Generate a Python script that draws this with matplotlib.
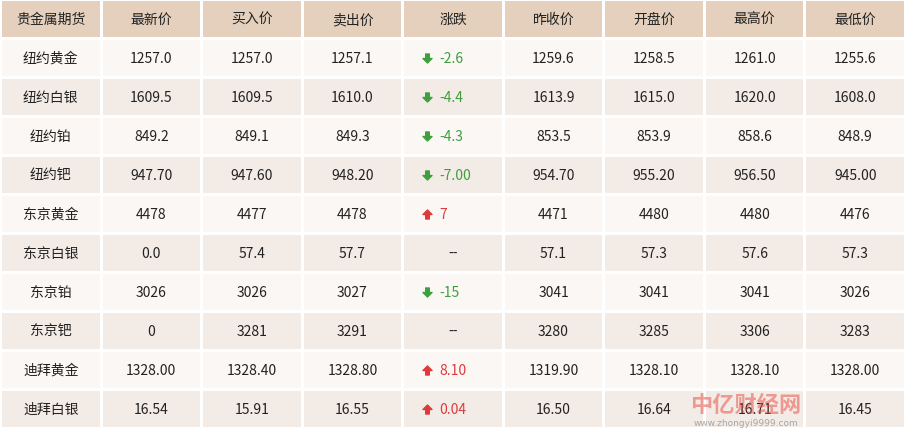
import matplotlib
matplotlib.use("Agg")
import matplotlib.pyplot as plt
from matplotlib.patches import Rectangle
from matplotlib.path import Path

headers = ["贵金属期货", "最新价", "买入价", "卖出价", "涨跌", "昨收价", "开盘价", "最高价", "最低价"]
names = ["纽约黄金", "纽约白银", "纽约铂", "纽约钯", "东京黄金", "东京白银", "东京铂", "东京钯", "迪拜黄金", "迪拜白银"]
latest = ["1257.0", "1609.5", "849.2", "947.70", "4478", "0.0", "3026", "0", "1328.00", "16.54"]
bid = ["1257.0", "1609.5", "849.1", "947.60", "4477", "57.4", "3026", "3281", "1328.40", "15.91"]
ask = ["1257.1", "1610.0", "849.3", "948.20", "4478", "57.7", "3027", "3291", "1328.80", "16.55"]
change = ["-2.6", "-4.4", "-4.3", "-7.00", "7", "--", "-15", "--", "8.10", "0.04"]
prev_close = ["1259.6", "1613.9", "853.5", "954.70", "4471", "57.1", "3041", "3280", "1319.90", "16.50"]
open_ = ["1258.5", "1615.0", "853.9", "955.20", "4480", "57.3", "3041", "3285", "1328.10", "16.64"]
high = ["1261.0", "1620.0", "858.6", "956.50", "4480", "57.6", "3041", "3306", "1328.10", "16.71"]
low = ["1255.6", "1608.0", "848.9", "945.00", "4476", "57.3", "3026", "3283", "1328.00", "16.45"]

cols = [names, latest, bid, ask, change, prev_close, open_, high, low]
ncol, nrow = len(headers), len(names) + 1

W, H = 905, 431
fig = plt.figure(figsize=(W / 100, H / 100), dpi=100)
ax = fig.add_axes([0, 0, 1, 1])
ax.set_xlim(0, W)
ax.set_ylim(H, 0)
ax.axis("off")
font = "Noto Sans CJK SC"

cw = W / ncol
rh = (H - 2) / nrow
hdr_c, odd_c, even_c = "#E4D0BC", "#FBF7F4", "#F3EBE5"
green, red = "#3E9F3E", "#E0393B"

up = Path([(0, 1), (-1, 0), (-0.4, 0), (-0.4, -1), (0.4, -1), (0.4, 0), (1, 0), (0, 1)], closed=True)
down = Path([(x, -y) for x, y in up.vertices], closed=True)

for r in range(nrow):
    y0 = 2 + r * rh
    color = hdr_c if r == 0 else (odd_c if r % 2 == 1 else even_c)
    for c in range(ncol):
        x0 = 2 + c * cw
        ax.add_patch(Rectangle((x0, y0), cw - 3, rh - 3, facecolor=color, edgecolor="none"))
        xc = x0 + (cw - 3) / 2
        yc = y0 + (rh - 3) / 2
        if r == 0:
            ax.text(xc, yc, headers[c], ha="center", va="center", fontsize=10, family=font, color="#222222")
            continue
        val = cols[c][r - 1]
        if c == 4 and val != "--":
            neg = val.startswith("-")
            col = green if neg else red
            ax.plot(x0 + 23, yc, marker=down if neg else up, markersize=6.5, color=col, linestyle="none")
            ax.text(x0 + 35, yc, val, ha="left", va="center", fontsize=10, family=font, color=col)
        else:
            ax.text(xc, yc, val, ha="center", va="center", fontsize=10, family=font, color="#222222")

ax.text(746, 405, "中亿财经网", ha="center", va="center", fontsize=16, family=font,
        color="#E8483F", alpha=0.5, fontweight="bold")
ax.text(746, 424, "www.zhongyi9999.com", ha="center", va="center", fontsize=6.5,
        family="DejaVu Sans", color="#888888", alpha=0.7)

fig.savefig("out.png", dpi=100, facecolor="white")
